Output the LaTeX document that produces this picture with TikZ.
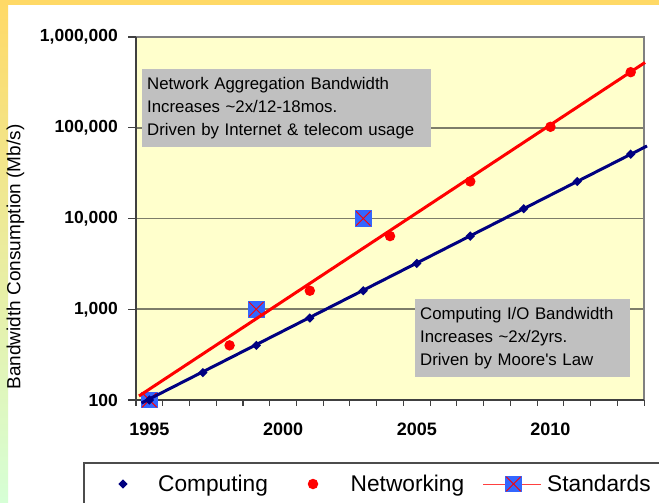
\documentclass[tikz,border=0pt]{standalone}
\usepackage{fontspec}
\setmainfont{Liberation Sans}[Ligatures=TeXOff]
\usetikzlibrary{shapes.geometric}

\definecolor{plotfill}{RGB}{255,255,204}
\definecolor{gridc}{RGB}{125,125,105}
\definecolor{navy}{RGB}{0,0,128}
\definecolor{stdblue}{RGB}{51,102,255}
\definecolor{boxgray}{RGB}{192,192,192}
\definecolor{stripTop}{RGB}{255,217,102}
\definecolor{stripMid}{RGB}{255,246,225}
\definecolor{stripBot}{RGB}{214,255,214}
\definecolor{framegray}{RGB}{128,128,128}

\begin{document}
\begin{tikzpicture}[x=1pt,y=-1pt,
  ylab/.style={anchor=east,font=\fontsize{17.5}{20}\selectfont\bfseries,inner sep=0},
  xlab/.style={font=\fontsize{18}{20}\selectfont\bfseries,inner sep=0},
  gridline/.style={draw=gridc,line width=1.8pt},
  axisline/.style={draw=black!75,line width=1.3pt},
  tickmark/.style={draw=black!75,line width=1.1pt},
  framestyle/.style={draw=framegray,line width=1.1pt},
  compmark/.style={diamond,aspect=1,fill=navy,inner sep=0,minimum size=9.5pt},
  netmark/.style={circle,fill=red,inner sep=0,minimum size=10.5pt},
  stdmark/.style={rectangle,fill=stdblue,inner sep=0,minimum size=16.5pt,
    path picture={
      \draw[red,line width=0.9pt,shorten <=1.5pt,shorten >=1.5pt]
        (path picture bounding box.north west) -- (path picture bounding box.south east);
      \draw[red,line width=0.9pt,shorten <=1.5pt,shorten >=1.5pt]
        (path picture bounding box.south west) -- (path picture bounding box.north east);}},
  netline/.style={draw=red,line width=3pt},
  compline/.style={draw=navy,line width=3pt},
  notebox/.style={fill=boxgray,anchor=north west,align=left,inner xsep=5pt,
    inner ysep=0pt,minimum height=78pt,font=\fontsize{16.8}{23}\selectfont},
  legtext/.style={anchor=base west,inner sep=0,font=\fontsize{22.7}{26}\selectfont},
  legendframe/.style={draw=black!70,line width=1.3pt},
  stdlegline/.style={draw=red!75,line width=0.8pt}]

\useasboundingbox (0,0) rectangle (659,503);

% slide background
\fill[white] (0,0) rectangle (659,503);
\shade[top color=stripTop,middle color=stripMid,bottom color=stripBot] (0,0) rectangle (8,503);
\fill[stripTop] (0,0) rectangle (659,5.3);

% plot area
\fill[plotfill] (136,37) rectangle (644,400);
\foreach \gy in {127.75,218.5,309.25}
  \draw[gridline] (136,\gy) -- (644,\gy);
\draw[framestyle] (136,37) -- (644,37) -- (644,400);
\draw[axisline] (136,37) -- (136,400) -- (644,400);

% ticks
\foreach \gy in {37,127.75,218.5,309.25,400}
  \draw[tickmark] (128,\gy) -- (136,\gy);
\foreach \i in {0,...,19}
  \draw[tickmark] ({136+26.74*\i},400) -- ({136+26.74*\i},406);

% tick labels
\node[ylab] (y6) at (118,37) {1,000,000};
\node[ylab] (y5) at (118,127.75) {100,000};
\node[ylab] (y4) at (118,218.5) {10,000};
\node[ylab] (y3) at (118,309.25) {1,000};
\node[ylab] (y2) at (118,400) {100};
\node[xlab] (x1995) at (149.37,429) {1995};
\node[xlab] (x2000) at (283.07,429) {2000};
\node[xlab] (x2005) at (416.77,429) {2005};
\node[xlab] (x2010) at (550.47,429) {2010};

% axis title
\node[rotate=90,inner sep=0,font=\fontsize{19}{21}\selectfont] (ytitle) at (15.5,257)
  {Bandwidth Consumption (Mb/s)};

% annotation boxes
\node[notebox,text width=279pt] (netbox) at (142,69)
  {Network Aggregation Bandwidth\\Increases \textasciitilde2x/12-18mos.\\Driven by Internet \& telecom usage};
\node[notebox,text width=205pt] (compbox) at (415,299)
  {Computing I/O Bandwidth\\Increases \textasciitilde2x/2yrs.\\Driven by Moore's Law};

% data series
\node[stdmark] (std1) at (149.37,400) {};
\node[stdmark] (std2) at (256.33,309.25) {};
\node[stdmark] (std3) at (363.29,218.5) {};
\foreach \j in {0,...,5}
  \node[netmark] (net\j) at ({229.59+80.22*\j},{345.36-54.636*\j}) {};
\foreach \k in {0,...,9}
  \node[compmark] (comp\k) at ({149.37+53.48*\k},{400-27.318*\k}) {};

% trend lines
\coordinate (netstart) at (139,396);
\coordinate (netend) at (645,62.5);
\draw[netline] (netstart) -- (netend);
\coordinate (compstart) at (141.5,403);
\coordinate (compend) at (647,146);
\draw[compline] (compstart) -- (compend);

% legend
\draw[legendframe] (84,503) -- (84,463) -- (659,463);
\node[compmark] (legcomp) at (123,484) {};
\node[legtext] (legcomptext) at (158,491.5) {Computing};
\node[netmark] (legnet) at (313,484) {};
\node[legtext] (legnettext) at (350.5,491.5) {Networking};
\coordinate (legstdl) at (483,484);
\coordinate (legstdr) at (541,484);
\draw[stdlegline] (legstdl) -- (legstdr);
\node[stdmark] (legstd) at (513.5,484) {};
\node[legtext] (legstdtext) at (547,491.5) {Standards};
\end{tikzpicture}
\end{document}
